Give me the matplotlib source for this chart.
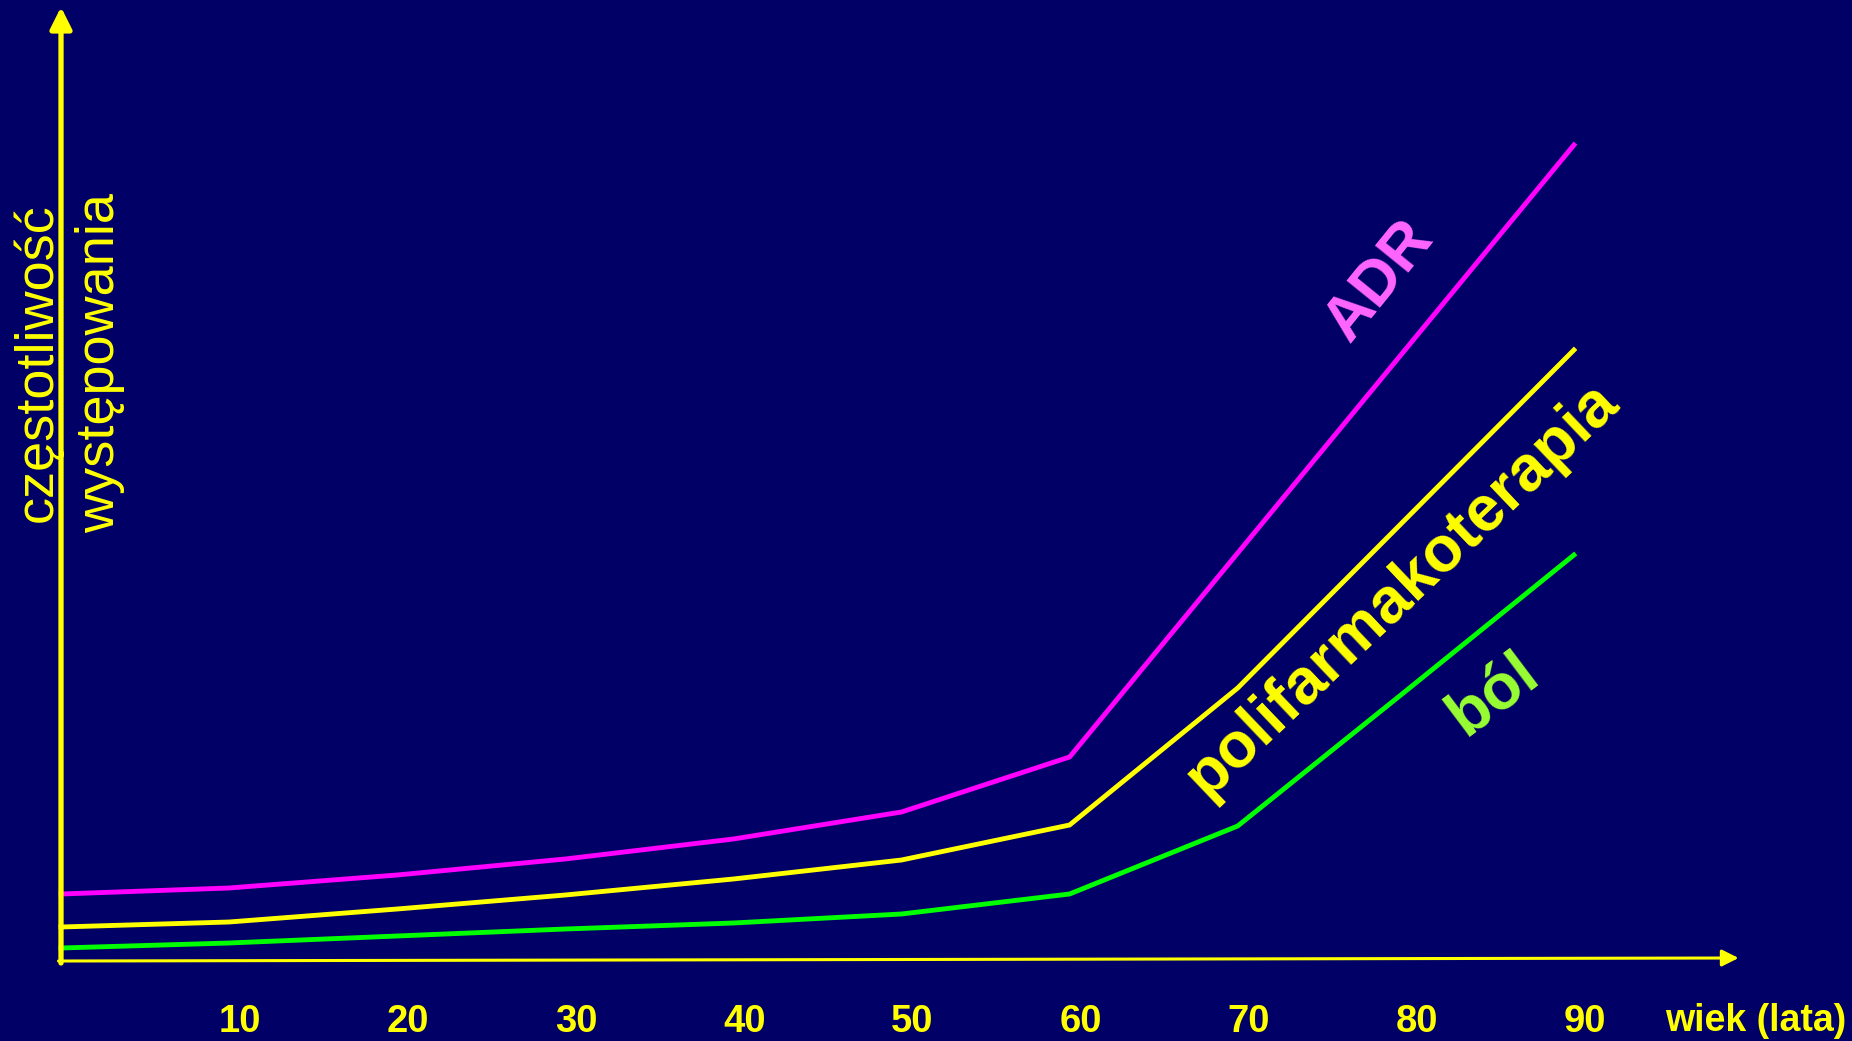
import matplotlib
matplotlib.use("Agg")
import matplotlib.pyplot as plt
from matplotlib.patches import FancyArrowPatch, ArrowStyle

plt.rcParams['font.family'] = ['Liberation Sans', 'DejaVu Sans']

# ---- data ----
ages = [0, 10, 20, 30, 40, 50, 60, 70, 80, 90]
adr = [6.7, 7.3, 8.6, 10.2, 12.2, 14.9, 20.4, 40.8, 61.2, 81.6]
polifarmakoterapia = [3.4, 3.9, 5.2, 6.6, 8.2, 10.1, 13.6, 27.3, 44.2, 61.1]
bol = [1.3, 1.8, 2.5, 3.2, 3.8, 4.7, 6.7, 13.5, 27.0, 40.6]
tick_values = [10, 20, 30, 40, 50, 60, 70, 80, 90]
tick_labels = ["10", "20", "30", "40", "50", "60", "70", "80", "90"]
x_title = "wiek (lata)"
y_title_lines = ["częstotliwość", "występowania"]
series_labels = ["ADR", "polifarmakoterapia", "ból"]

BG = "#000066"
YELLOW = "#FFFF00"
MAGENTA = "#FF00FF"
GREEN = "#00FF00"
PINK_TXT = "#FF66FF"
GREEN_TXT = "#99FF33"

W, H = 1852, 1041
fig = plt.figure(figsize=(W / 100, H / 100), dpi=100, facecolor=BG)
ax = fig.add_axes([0, 0, 1, 1])
ax.set_facecolor(BG)
px_per_year = 16.81
x0_px = 61.0
ax.set_xlim(-x0_px / px_per_year, (W - x0_px) / px_per_year)
ax.set_ylim(-(H - 961) / 10.0, 961 / 10.0)
ax.axis("off")

# curves
lw = 3.5
ax.plot(ages, adr, color=MAGENTA, lw=lw, solid_joinstyle="miter", zorder=3)
ax.plot(ages, polifarmakoterapia, color=YELLOW, lw=lw, solid_joinstyle="miter", zorder=3)
ax.plot(ages, bol, color=GREEN, lw=lw, solid_joinstyle="miter", zorder=3)

# axes arrows
yarrow = FancyArrowPatch((0, -0.2), (0, 95.4),
                         arrowstyle=ArrowStyle("-|>", head_length=13, head_width=6.5),
                         mutation_scale=1, color=YELLOW, lw=3.8,
                         shrinkA=0, shrinkB=0, zorder=4)
ax.add_patch(yarrow)
xarrow = FancyArrowPatch((-0.15, 0), (99.8, 0.3),
                         arrowstyle=ArrowStyle("-|>", head_length=10, head_width=5),
                         mutation_scale=1, color=YELLOW, lw=2.2,
                         shrinkA=0, shrinkB=0, zorder=4)
ax.add_patch(xarrow)

# tick labels
for v, lab in zip(tick_values, tick_labels):
    ax.text(v + 0.65, -7.15, lab, color=YELLOW, fontsize=27.5, fontweight="bold",
            ha="center", va="baseline")
ax.text(95.4, -7.0, x_title, color=YELLOW, fontsize=27, fontweight="bold",
        ha="left", va="baseline")

# y title (rotated, two centred lines)
for line, bx in zip(y_title_lines, [52, 114]):
    fig.text(bx / W, 1 - 363 / H, line, color=YELLOW, fontsize=39,
             rotation=90, rotation_mode="anchor", ha="center", va="baseline")

# series labels
ax.text(78.4, 68.0, series_labels[0], color=PINK_TXT, fontsize=45, fontweight="bold",
        rotation=51, rotation_mode="anchor", ha="center", va="center")
ax.text(79.8, 37.2, series_labels[1], color=YELLOW, fontsize=46, fontweight="bold",
        rotation=43.6, rotation_mode="anchor", ha="center", va="center")
ax.text(85.2, 26.7, series_labels[2], color=GREEN_TXT, fontsize=46, fontweight="bold",
        rotation=37, rotation_mode="anchor", ha="center", va="center")

fig.savefig("out.png", dpi=100, facecolor=BG)
